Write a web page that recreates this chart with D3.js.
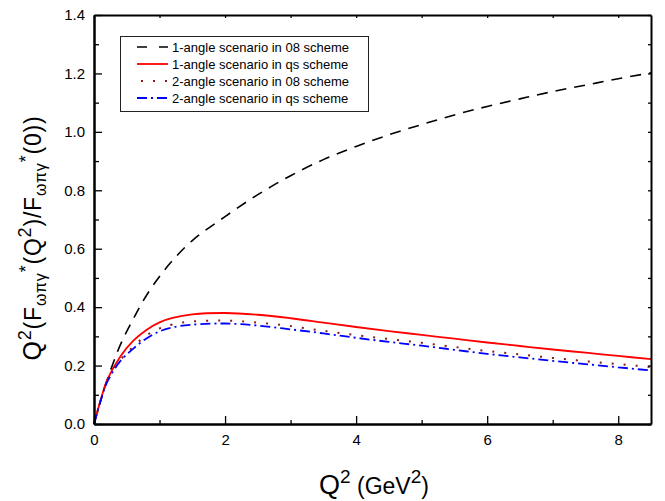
<!DOCTYPE html>
<html>
<head>
<meta charset="utf-8">
<script src="https://cdn.jsdelivr.net/npm/d3@7"></script>
<style>
  body { margin: 0; background: #fff; }
  svg { font-family: "Liberation Sans", Arial, sans-serif; }
</style>
</head>
<body>
<svg width="665" height="501"></svg>
<script>
// values
const q2 = [0, 0.1, 0.2, 0.4, 0.6, 0.8, 1.0, 1.2, 1.5, 2.0, 2.5, 3.0, 3.5, 4.0, 4.5, 5.0, 5.5, 6.0, 6.5, 7.0, 7.5, 8.0, 8.5];
const oneAngle08 = [0, 0.08, 0.15, 0.27, 0.36, 0.44, 0.505, 0.56, 0.628, 0.71, 0.785, 0.85, 0.905, 0.95, 0.99, 1.025, 1.058, 1.087, 1.113, 1.138, 1.16, 1.182, 1.202];
const oneAngleQs = [0, 0.08, 0.15, 0.23, 0.285, 0.322, 0.348, 0.363, 0.375, 0.38, 0.374, 0.362, 0.347, 0.332, 0.318, 0.305, 0.292, 0.279, 0.267, 0.255, 0.244, 0.233, 0.222];
const twoAngle08 = [0, 0.08, 0.145, 0.218, 0.265, 0.303, 0.327, 0.341, 0.351, 0.354, 0.347, 0.335, 0.319, 0.304, 0.291, 0.278, 0.264, 0.25, 0.238, 0.226, 0.215, 0.205, 0.195];
const twoAngleQs = [0, 0.078, 0.143, 0.215, 0.258, 0.293, 0.317, 0.331, 0.34, 0.344, 0.337, 0.324, 0.31, 0.295, 0.281, 0.268, 0.254, 0.24, 0.228, 0.216, 0.205, 0.194, 0.183];

const legendNames = ["1-angle scenario in 08 scheme", "1-angle scenario in qs scheme",
                     "2-angle scenario in 08 scheme", "2-angle scenario in qs scheme"];
const xMajor = [0, 2, 4, 6, 8];
const xMinor = [1, 3, 5, 7];
const yMajor = [0, 0.2, 0.4, 0.6, 0.8, 1.0, 1.2, 1.4];
const yMinor = [0.1, 0.3, 0.5, 0.7, 0.9, 1.1, 1.3];

const margin = {top: 15, right: 14, bottom: 77, left: 94};
const width = 665 - margin.left - margin.right;
const height = 501 - margin.top - margin.bottom;

const svg = d3.select("svg");
const chart = svg.append("g")
    .attr("transform", `translate(${margin.left}, ${margin.top})`);

const x = d3.scaleLinear().domain([0, 8.5]).range([0, width]);
const y = d3.scaleLinear().domain([0, 1.4]).range([height, 0]);

// series styles
const series = [
  {vals: oneAngle08, color: "#000", dash: "11,8", w: 1.6},
  {vals: oneAngleQs, color: "#ff0000", dash: null, w: 1.8},
  {vals: twoAngle08, color: "#8b1a1a", dash: "2,10", w: 2},
  {vals: twoAngleQs, color: "#0000ff", dash: "10,4,2,4", w: 1.8}
];

const line = d3.line()
    .x(d => x(d[0]))
    .y(d => y(d[1]))
    .curve(d3.curveCatmullRom.alpha(0.5));

series.forEach(function(s) {
  chart.append("path")
      .datum(q2.map((q, i) => [q, s.vals[i]]))
      .attr("fill", "none")
      .attr("stroke", s.color)
      .attr("stroke-width", s.w)
      .attr("stroke-dasharray", s.dash)
      .attr("d", line);
});

// axes, ticks point inward
function styleAxis(g) {
  g.selectAll("path").attr("stroke", "#000").attr("stroke-width", 2);
  g.selectAll("line").attr("stroke", "#000").attr("stroke-width", 1.3);
  g.selectAll("text").attr("fill", "#000").style("font-size", "15px")
   .style("font-family", "'Liberation Sans', Arial, sans-serif");
}

chart.append("g")
    .attr("transform", `translate(0,${height})`)
    .call(d3.axisBottom(x).tickValues(xMinor).tickSize(-4).tickFormat("").tickSizeOuter(0))
    .call(styleAxis);
chart.append("g")
    .attr("transform", `translate(0,${height})`)
    .call(d3.axisBottom(x).tickValues(xMajor).tickSize(-8).tickPadding(10).tickFormat(d3.format("d")).tickSizeOuter(0))
    .call(styleAxis);

chart.append("g")
    .call(d3.axisLeft(y).tickValues(yMinor).tickSize(-5).tickFormat("").tickSizeOuter(0))
    .call(styleAxis);
chart.append("g")
    .call(d3.axisLeft(y).tickValues(yMajor).tickSize(-8).tickPadding(9).tickFormat(d3.format(".1f")).tickSizeOuter(0))
    .call(styleAxis);

// mirrored small ticks on top and right
chart.append("g")
    .call(d3.axisTop(x).tickValues(xMajor.concat(xMinor)).tickSize(-3).tickFormat("").tickSizeOuter(0))
    .call(styleAxis);
chart.append("g")
    .attr("transform", `translate(${width},0)`)
    .call(d3.axisRight(y).tickValues(yMajor.concat(yMinor)).tickSize(-3).tickFormat("").tickSizeOuter(0))
    .call(styleAxis);

// writes text pieces with raised / lowered parts
function richText(sel, parts) {
  let prev = 0;
  parts.forEach(function(p) {
    sel.append("tspan")
        .attr("dy", (p.shift || 0) - prev)
        .style("font-size", p.size + "px")
        .text(p.t);
    prev = p.shift || 0;
  });
}

// x axis title
const xt = svg.append("text")
    .attr("x", 374)
    .attr("y", 494)
    .attr("text-anchor", "middle")
    .attr("fill", "#000");
richText(xt, [
  {t: "Q", size: 27}, {t: "2", size: 19, shift: -11},
  {t: " (GeV", size: 23}, {t: "2", size: 19, shift: -11}, {t: ")", size: 23}
]);

// y axis title
const yt = svg.append("text")
    .attr("transform", "translate(41,238) rotate(-90)")
    .attr("text-anchor", "middle")
    .style("letter-spacing", "0.8px")
    .attr("fill", "#000");
richText(yt, [
  {t: "Q", size: 25}, {t: "2", size: 18, shift: -10},
  {t: "(F", size: 23}, {t: "ωπγ", size: 16, shift: 5}, {t: "*", size: 18, shift: -9},
  {t: "(Q", size: 23}, {t: "2", size: 18, shift: -10},
  {t: ")/F", size: 23}, {t: "ωπγ", size: 16, shift: 5}, {t: "*", size: 18, shift: -9},
  {t: "(0))", size: 23}
]);

// legend
const legend = svg.append("g");
legend.append("rect")
    .attr("x", 120.5).attr("y", 36.5)
    .attr("width", 248).attr("height", 75)
    .attr("fill", "#fff")
    .attr("stroke", "#222")
    .attr("stroke-width", 1);

const legendDash = ["10,12", null, "2,10", "10,4,2,4"];
series.forEach(function(s, i) {
  const ly = 47 + i * 17;
  legend.append("line")
      .attr("x1", i === 2 ? 141 : 137).attr("x2", 168)
      .attr("y1", ly).attr("y2", ly)
      .attr("stroke", s.color)
      .attr("stroke-width", s.w)
      .attr("stroke-dasharray", legendDash[i]);
  legend.append("text")
      .attr("x", 172)
      .attr("y", ly + 4.5)
      .style("font-size", "13px")
      .attr("fill", "#000")
      .text(legendNames[i]);
});
</script>
</body>
</html>
